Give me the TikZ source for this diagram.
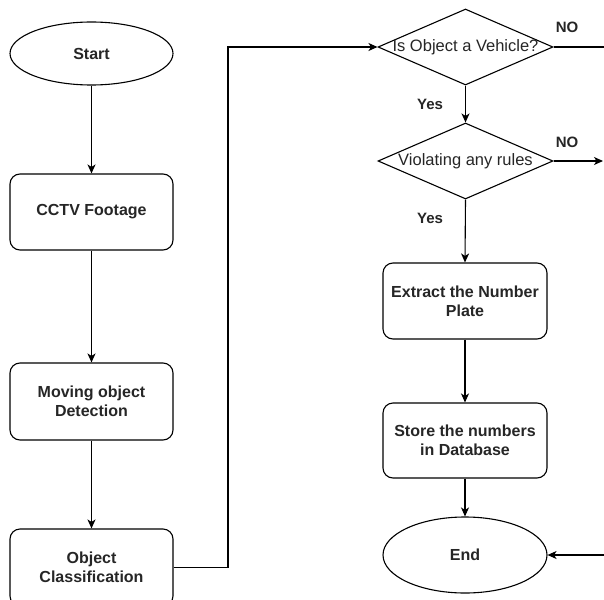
\documentclass[tikz,border=0pt]{standalone}
\usepackage{fontspec}
\setmainfont{Liberation Sans}
\usetikzlibrary{shapes.geometric,arrows.meta}
\begin{document}
\begin{tikzpicture}[x=1pt,y=-1pt,
  line width=1.1pt,
  txt/.style={font=\fontsize{16}{19}\selectfont\bfseries, text=black!85, align=center},
  box/.style={draw, fill=white, rounded corners=10pt, minimum width=163pt, minimum height=76pt, inner sep=0pt, txt},
  oval/.style={draw, fill=white, ellipse, minimum width=163pt, minimum height=63pt, inner sep=0pt, txt},
  dia/.style={draw, fill=white, diamond, minimum width=175pt, minimum height=76pt, inner sep=0pt},
  dtxt/.style={font=\fontsize{16.5}{19}\selectfont, text=black!85, inner sep=0pt},
  lbl/.style={font=\fontsize{15}{18}\selectfont\bfseries, text=black!85, inner sep=0pt},
  arr/.style={-{Stealth[length=9pt,width=8pt,inset=2.5pt]}},
  ]
\useasboundingbox (0,0) rectangle (604,599);
\fill[white] (0,0) rectangle (604,599);
\clip (0,0) rectangle (604,599);
% left column
\node[oval] (start) at (91.5,53.5) {Start};
\node[box] (cctv) at (91.5,212) {CCTV Footage};
\node[box, minimum height=77pt] (move) at (91.5,401.5) {Moving object\\Detection};
\node[box, minimum height=77pt] (cls) at (91.5,567.5) {Object\\Classification};
% right column
\node[dia] (d1) at (465.5,47) {};
\node[dtxt] (d1t) at (d1.center) {Is Object a Vehicle?};
\node[dia] (d2) at (465.5,161) {};
\node[dtxt] (d2t) at (d2.center) {Violating any rules};
\node[box, minimum width=164pt] (ext) at (465,301) {Extract the Number\\Plate};
\node[box, minimum width=164pt, minimum height=75pt] (store) at (465,440.5) {Store the numbers\\in Database};
\node[oval, minimum width=164pt, minimum height=76pt] (end) at (465,555) {End};
% labels
\node[lbl] (no1) at (567,27) {NO};
\node[lbl] (no2) at (567,142) {NO};
\node[lbl] (yes1) at (430,104) {Yes};
\node[lbl] (yes2) at (430,218) {Yes};
% coordinates
\coordinate (c1) at (228,567.5);
\coordinate (c2) at (228,47);
\coordinate (e1) at (606,47);
\coordinate (e2) at (603,161);
\coordinate (e3) at (606,555);
% connectors
\draw[arr] (start) -- (cctv);
\draw[arr] (cctv) -- (move);
\draw[arr] (move) -- (cls);
\draw[arr] (cls.east) -- (c1) -- (c2) -- (d1.west);
\draw[arr] (d1.south) -- (d2.north);
\draw (d1.east) -- (e1);
\draw[arr] (d2.east) -- (e2);
\draw[arr] (d2.south) -- (ext.north);
\draw[arr] (ext) -- (store);
\draw[arr] (store) -- (end);
\draw[arr] (e3) -- (end.east);
\end{tikzpicture}
\end{document}
